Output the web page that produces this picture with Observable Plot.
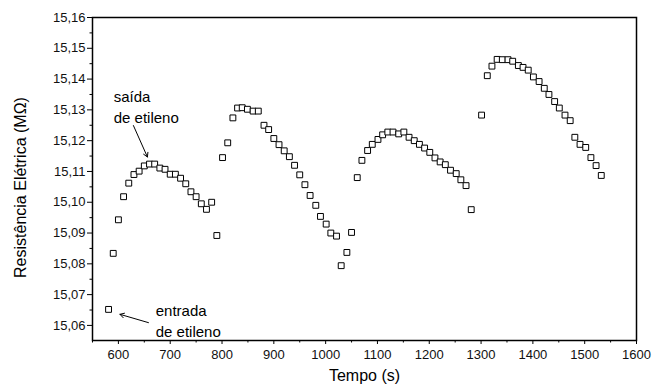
<!DOCTYPE html>
<html>
<head>
<meta charset="utf-8">
<script src="https://cdn.jsdelivr.net/npm/d3@7"></script>
<script src="https://cdn.jsdelivr.net/npm/@observablehq/plot@0.6"></script>
<style>
  html, body { margin: 0; padding: 0; background: #fff; }
  #chart svg { display: block; }
</style>
</head>
<body>
<div id="chart"></div>
<script>
// Tempo (s)
const tempo = [581, 590, 600, 610, 620, 630, 640, 650, 660, 670,
  680, 690, 700, 710, 720, 730, 740, 750, 760, 770,
  780, 790, 801, 811, 821, 830, 839, 849, 860, 870,
  881, 890, 900, 910, 920, 930, 940, 950, 960, 970,
  981, 990, 1001, 1010, 1021, 1030, 1041, 1050, 1061, 1070,
  1081, 1090, 1101, 1110, 1120, 1130, 1141, 1151, 1161, 1171,
  1181, 1191, 1201, 1211, 1221, 1231, 1241, 1252, 1261, 1271,
  1281, 1301, 1312, 1321, 1331, 1341, 1352, 1361, 1372, 1381,
  1391, 1401, 1412, 1422, 1431, 1442, 1451, 1462, 1472, 1481,
  1491, 1502, 1512, 1522, 1532];
// Resistência Elétrica (MΩ)
const resistencia = [15.0652, 15.0834, 15.0943, 15.1018, 15.1062, 15.1090, 15.1101, 15.1118, 15.1124, 15.1124,
  15.1111, 15.1107, 15.1091, 15.1091, 15.1078, 15.1060, 15.1034, 15.1018, 15.0995, 15.0977,
  15.1000, 15.0892, 15.1145, 15.1193, 15.1274, 15.1306, 15.1307, 15.1302, 15.1296, 15.1296,
  15.1250, 15.1236, 15.1207, 15.1187, 15.1167, 15.1148, 15.1120, 15.1089, 15.1057, 15.1022,
  15.0990, 15.0954, 15.0929, 15.0900, 15.0890, 15.0794, 15.0837, 15.0902, 15.1080, 15.1136,
  15.1168, 15.1188, 15.1204, 15.1219, 15.1228, 15.1228, 15.1222, 15.1228, 15.1211, 15.1200,
  15.1188, 15.1176, 15.1162, 15.1144, 15.1131, 15.1122, 15.1104, 15.1093, 15.1073, 15.1054,
  15.0976, 15.1283, 15.1411, 15.1442, 15.1464, 15.1463, 15.1463, 15.1458, 15.1444, 15.1438,
  15.1429, 15.1407, 15.1392, 15.1370, 15.1350, 15.1327, 15.1306, 15.1283, 15.1265, 15.1211,
  15.1188, 15.1178, 15.1145, 15.1119, 15.1087];

const xTicks = [600, 700, 800, 900, 1000, 1100, 1200, 1300, 1400, 1500, 1600];
const xMinor = [550, 650, 750, 850, 950, 1050, 1150, 1250, 1350, 1450, 1550];
const yTicks = [15.06, 15.07, 15.08, 15.09, 15.10, 15.11, 15.12, 15.13, 15.14, 15.15, 15.16];
const yMinor = [15.065, 15.075, 15.085, 15.095, 15.105, 15.115, 15.125, 15.135, 15.145, 15.155];

// annotations (data coordinates)
const notes = [
  {x: 591, y: 15.1341, text: "saída"},
  {x: 591, y: 15.1272, text: "de etileno"},
  {x: 672, y: 15.0646, text: "entrada"},
  {x: 672, y: 15.0578, text: "de etileno"}
];
const arrows = [
  {x1: 629, y1: 15.1249, x2: 656, y2: 15.1147},
  {x1: 658, y1: 15.0609, x2: 603, y2: 15.0636}
];

const data = tempo.map((t, i) => ({t, r: resistencia[i]}));
const fmt = d => d.toFixed(2).replace(".", ",");
const font = "Liberation Sans, Arial, Helvetica, sans-serif";

const chart = Plot.plot({
  width: 652,
  height: 390,
  marginLeft: 92,
  marginRight: 16,
  marginTop: 17,
  marginBottom: 50,
  style: {fontFamily: font, color: "black", background: "white"},
  x: {domain: [550, 1600]},
  y: {domain: [15.0551, 15.16]},
  marks: [
    Plot.axisX(xTicks, {tickSize: 4, tickPadding: 5, fontSize: 13, label: null, tickFormat: d => String(d), strokeWidth: 1, fill: "#111"}),
    Plot.axisX(xMinor, {tickSize: 2.5, text: null, label: null, strokeWidth: 1}),
    Plot.axisY(yTicks, {tickSize: 5, tickPadding: 2, fontSize: 13, label: null, tickFormat: fmt, strokeWidth: 1, fill: "#111"}),
    Plot.axisY(yMinor, {tickSize: 2.5, text: null, label: null, strokeWidth: 1}),
    Plot.frame({stroke: "black", strokeWidth: 1.5}),
    Plot.dot(data, {x: "t", y: "r", symbol: "square", r: 3.3, stroke: "black", fill: "white", strokeWidth: 1}),
    Plot.arrow(arrows, {x1: "x1", y1: "y1", x2: "x2", y2: "y2", stroke: "black", strokeWidth: 1, headLength: 7}),
    Plot.text(notes, {x: "x", y: "y", text: "text", textAnchor: "start", fontSize: 15, fill: "black"}),
    Plot.text(["Tempo (s)"], {frameAnchor: "bottom", dy: 40, fontSize: 16, fill: "black"}),
    Plot.text(["Resistência Elétrica (MΩ)"], {frameAnchor: "left", textAnchor: "middle", dx: -72, dy: 8.5, rotate: -90, fontSize: 16, fill: "black"})
  ]
});
document.getElementById("chart").appendChild(chart);
</script>
</body>
</html>
